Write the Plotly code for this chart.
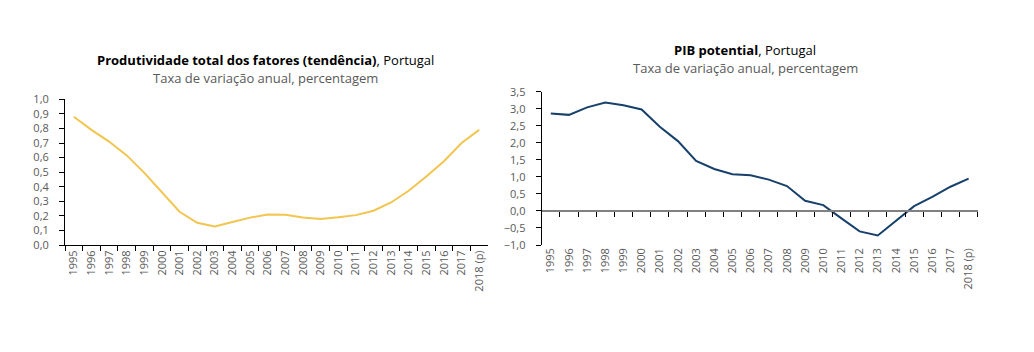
import plotly.graph_objects as go

years = ["1995", "1996", "1997", "1998", "1999", "2000", "2001", "2002", "2003", "2004",
         "2005", "2006", "2007", "2008", "2009", "2010", "2011", "2012", "2013", "2014",
         "2015", "2016", "2017", "2018 (p)"]

ptf = [0.88, 0.79, 0.71, 0.615, 0.495, 0.365, 0.228, 0.152, 0.127, 0.158,
       0.188, 0.21, 0.208, 0.188, 0.178, 0.19, 0.205, 0.235, 0.292, 0.372,
       0.47, 0.575, 0.70, 0.79]

pib = [2.86, 2.82, 3.04, 3.18, 3.10, 2.98, 2.47, 2.05, 1.47, 1.23,
       1.08, 1.05, 0.92, 0.73, 0.30, 0.17, -0.22, -0.60, -0.72, -0.30,
       0.14, 0.41, 0.71, 0.95]

left_ticks = [0.0, 0.1, 0.2, 0.3, 0.4, 0.5, 0.6, 0.7, 0.8, 0.9, 1.0]
right_ticks = [-1.0, -0.5, 0.0, 0.5, 1.0, 1.5, 2.0, 2.5, 3.0, 3.5]

FONT = "Open Sans"
GRAY = "#595959"
W, H = 1034, 352

def px_x(p):
    return p / W

def px_y(p):
    return (H - p) / H

fig = go.Figure()
fig.add_trace(go.Scatter(x=years, y=ptf, mode="lines", line=dict(color="#F1C54E", width=2),
                         xaxis="x", yaxis="y", showlegend=False, hoverinfo="x+y"))
fig.add_trace(go.Scatter(x=years, y=pib, mode="lines", line=dict(color="#17406B", width=2),
                         xaxis="x2", yaxis="y2", showlegend=False, hoverinfo="x+y"))
# invisible copy to drive the zero-positioned axis with tick marks
fig.add_trace(go.Scatter(x=years, y=pib, mode="lines", line=dict(width=0), opacity=0,
                         xaxis="x3", yaxis="y2", showlegend=False, hoverinfo="skip"))

tickfont = dict(family=FONT, size=11, color=GRAY)

y_left_dom = [px_y(245), px_y(99.3)]
y_right_dom = [px_y(245), px_y(91.7)]
zero_pos = px_y(210.8)

fig.update_layout(
    template="none",
    width=W, height=H,
    margin=dict(l=0, r=0, t=0, b=0, pad=0),
    paper_bgcolor="white", plot_bgcolor="white",
    separators=", ",
    font=dict(family=FONT, size=11, color=GRAY),
    xaxis=dict(domain=[px_x(65), px_x(488)], type="category", categoryorder="array",
               categoryarray=years, range=[-0.5, 23.5], anchor="y", automargin=False,
               showline=True, linecolor="#000000", linewidth=1,
               ticks="outside", tickson="boundaries", ticklen=5, tickcolor="#000000",
               tickangle=-90, tickfont=tickfont, showgrid=False, zeroline=False),
    yaxis=dict(domain=y_left_dom, range=[0, 1.0], tickvals=left_ticks, tickformat=".1f",
               anchor="x", automargin=False, showline=True, linecolor="#000000", linewidth=1,
               ticks="outside", ticklen=5, tickcolor="#000000", ticklabelstandoff=8,
               tickfont=tickfont, showgrid=False, zeroline=False),
    xaxis2=dict(domain=[px_x(541.7), px_x(977.7)], type="category", categoryorder="array",
                categoryarray=years, range=[-0.5, 23.5], anchor="y2", automargin=False,
                showline=False, ticks="", tickangle=-90, tickfont=tickfont,
                showgrid=False, zeroline=False),
    xaxis3=dict(type="category", categoryorder="array", categoryarray=years,
                range=[-0.5, 23.5], overlaying="x2", anchor="free", position=zero_pos,
                automargin=False, showline=True, linecolor="#808080", linewidth=1.5,
                ticks="outside", tickson="boundaries", ticklen=5, tickcolor="#000000",
                showticklabels=False, showgrid=False, zeroline=False),
    yaxis2=dict(domain=y_right_dom, range=[-1.0, 3.5], tickvals=right_ticks, tickformat=".1f",
                anchor="x2", automargin=False, showline=True, linecolor="#000000", linewidth=1,
                ticks="outside", ticklen=5, tickcolor="#000000", ticklabelstandoff=8,
                tickfont=tickfont, showgrid=False, zeroline=False),
)

fig.add_annotation(x=px_x(265), y=px_y(60), xref="paper", yref="paper",
                   text="<b>Produtividade total dos fatores (tendência)</b>, Portugal",
                   showarrow=False, xanchor="center", yanchor="middle",
                   font=dict(family=FONT, size=13, color="#000000"))
fig.add_annotation(x=px_x(265), y=px_y(78), xref="paper", yref="paper",
                   text="Taxa de variação anual, percentagem",
                   showarrow=False, xanchor="center", yanchor="middle",
                   font=dict(family=FONT, size=13, color=GRAY))
fig.add_annotation(x=px_x(745), y=px_y(49.5), xref="paper", yref="paper",
                   text="<b>PIB potential</b>, Portugal",
                   showarrow=False, xanchor="center", yanchor="middle",
                   font=dict(family=FONT, size=13, color="#000000"))
fig.add_annotation(x=px_x(745), y=px_y(68), xref="paper", yref="paper",
                   text="Taxa de variação anual, percentagem",
                   showarrow=False, xanchor="center", yanchor="middle",
                   font=dict(family=FONT, size=13, color=GRAY))

fig.write_html("out.html")
